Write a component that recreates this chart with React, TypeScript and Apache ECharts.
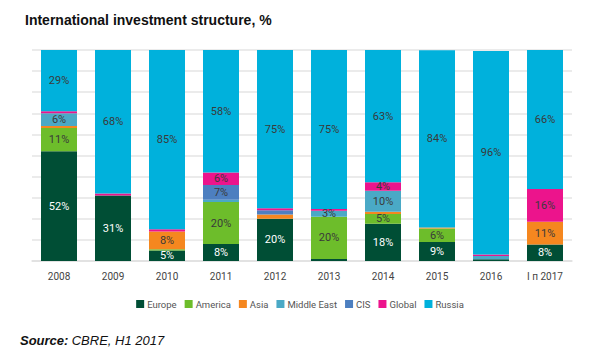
import React, { useEffect, useRef } from "react";
import * as echarts from "echarts";

const categories = ["2008", "2009", "2010", "2011", "2012", "2013", "2014", "2015", "2016", "I п 2017"];
const europe = [52, 31, 5, 8, 20, 1, 17.6, 9, 0.8, 7.8];
const america = [11, 0, 0.6, 20, 0, 20, 4.7, 6.4, 0, 0];
const asia = [1, 0, 8.4, 0, 2, 0, 1, 0.5, 0, 10.8];
const middleEast = [6, 0, 0, 1, 0, 2.8, 10, 0, 1.6, 0];
const cis = [0, 0, 0, 7, 2, 0, 0, 0, 0, 0];
const global = [1, 1, 1, 6, 1, 0.8, 4, 0, 0.7, 15.5];
const russia = [29, 68, 85, 58, 75, 75.4, 62.7, 84, 96.4, 65.9];

const seriesNames = ["Europe", "America", "Asia", "Middle East", "CIS", "Global", "Russia"];
const seriesData = [europe, america, asia, middleEast, cis, global, russia];
const seriesColors = ["#004e35", "#6dbd2b", "#f5871f", "#4aa9c6", "#4d7fc0", "#ec148c", "#00b1dc"];

const FONT = "Roboto, 'Liberation Sans Narrow', sans-serif";

export default function App() {
  const ref = useRef<HTMLDivElement>(null);
  useEffect(() => {
    if (!ref.current) return;
    const chart = echarts.init(ref.current, undefined, { renderer: "svg" });
    chart.setOption({
      animation: false,
      backgroundColor: "#ffffff",
      title: {
        text: "International investment structure, %",
        left: 20,
        top: 8,
        textStyle: { fontFamily: "'Liberation Sans', Arial, sans-serif", fontSize: 14, fontWeight: "bold", color: "#111" },
      },
      graphic: [
        {
          type: "text",
          left: 20,
          top: 334,
          style: {
            text: "{b|Source:} {i|CBRE, H1 2017}",
            rich: {
              b: { fontFamily: "'Liberation Sans', Arial, sans-serif", fontSize: 13, fontWeight: "bold", fontStyle: "italic", fill: "#111" },
              i: { fontFamily: "'Liberation Sans', Arial, sans-serif", fontSize: 13, fontStyle: "italic", fill: "#111" },
            },
          },
        },
      ],
      legend: {
        top: 294,
        left: "center",
        orient: "horizontal",
        itemWidth: 8,
        itemHeight: 8,
        itemGap: 8,
        icon: "rect",
        textStyle: { fontFamily: FONT, fontSize: 9.5, color: "#555", padding: [0, 0, 0, -2] },
        data: seriesNames,
      },
      grid: { left: 32, right: 28, top: 50, bottom: 96 },
      xAxis: {
        type: "category",
        data: categories,
        axisTick: { show: false },
        axisLine: { show: true, lineStyle: { color: "#e0e0e0", width: 1.5 } },
        axisLabel: { interval: 0, fontFamily: FONT, fontSize: 10, color: "#444", margin: 10 },
      },
      yAxis: {
        type: "value",
        min: 0,
        max: 100,
        interval: 10,
        axisLabel: { show: false },
        axisLine: { show: false },
        axisTick: { show: false },
        splitLine: { lineStyle: { color: "#e4e4e4", width: 1.5 } },
      },
      series: seriesNames.map((name, i) => ({
        name,
        type: "bar",
        stack: "total",
        barWidth: 36,
        data: seriesData[i],
        itemStyle: { color: seriesColors[i] },
        label: {
          show: true,
          position: "inside",
          fontFamily: FONT,
          fontSize: 11,
          color: i === 0 ? "#ffffff" : "#3a3a3a",
          formatter: (p: any) => (p.value >= 2.5 ? Math.round(p.value) + "%" : ""),
        },
      })),
    });
    return () => chart.dispose();
  }, []);
  return <div ref={ref} style={{ position: "absolute", left: 0, top: 0, width: 600, height: 357 }} />;
}
